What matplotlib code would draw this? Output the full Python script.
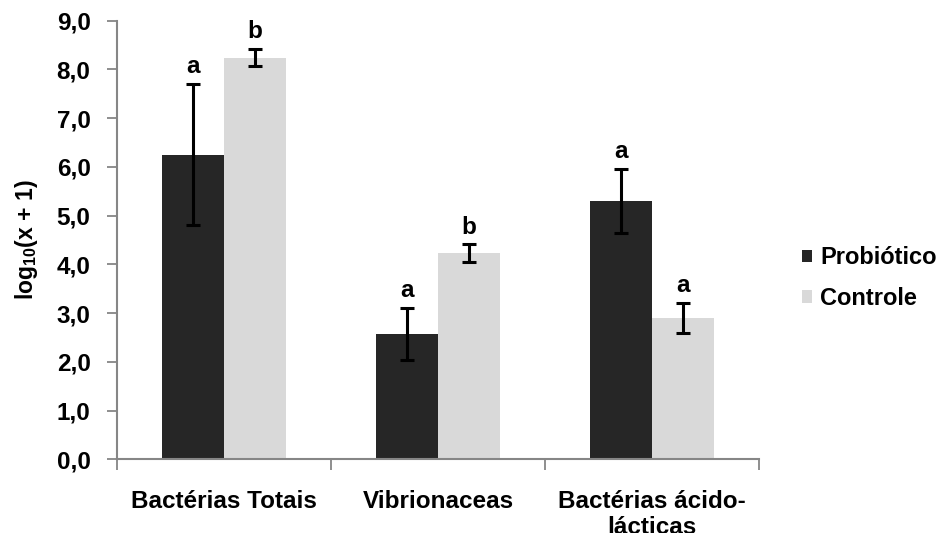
import numpy as np
import matplotlib
matplotlib.use("Agg")
import matplotlib.pyplot as plt

plt.rcParams['font.family'] = ['Liberation Sans', 'DejaVu Sans']
plt.rcParams['font.weight'] = 'bold'
plt.rcParams['mathtext.fontset'] = 'custom'
plt.rcParams['mathtext.rm'] = 'Liberation Sans:bold'
plt.rcParams['mathtext.it'] = 'Liberation Sans:bold'
plt.rcParams['mathtext.bf'] = 'Liberation Sans:bold'

categories = ["Bactérias Totais", "Vibrionaceas", "Bactérias ácido-\nlácticas"]
probiotico = [6.25, 2.57, 5.30]
probiotico_err = [1.45, 0.54, 0.66]
controle = [8.24, 4.23, 2.90]
controle_err = [0.18, 0.18, 0.30]
letters_probiotico = ["a", "a", "a"]
letters_controle = ["b", "b", "a"]
yticks = [0, 1, 2, 3, 4, 5, 6, 7, 8, 9]

dark = "#262626"
light = "#d9d9d9"
axis_grey = "#868686"
fs = 17.5

fig = plt.figure(figsize=(9.43, 5.33), dpi=100)
ax = fig.add_axes([0.124, 0.1383, 0.681, 0.8229])

x = np.arange(len(categories))
w = 0.29
ekw = dict(ecolor="black", elinewidth=2.2, capsize=5, capthick=2.2)
ax.bar(x - w / 2, probiotico, w, color=dark, label="Probiótico",
       yerr=probiotico_err, error_kw=ekw, zorder=2)
ax.bar(x + w / 2, controle, w, color=light, label="Controle",
       yerr=controle_err, error_kw=ekw, zorder=2)

for xi, m, e, t in zip(x - w / 2, probiotico, probiotico_err, letters_probiotico):
    ax.text(xi, m + e + 0.12, t, ha="center", va="bottom", fontsize=fs, fontweight="bold")
for xi, m, e, t in zip(x + w / 2, controle, controle_err, letters_controle):
    ax.text(xi, m + e + 0.12, t, ha="center", va="bottom", fontsize=fs, fontweight="bold")

ax.set_xlim(-0.5, len(categories) - 0.5)
ax.set_ylim(0, 9)
ax.set_yticks(yticks)
ax.set_yticklabels([f"{v:.1f}".replace(".", ",") for v in yticks], fontsize=fs, fontweight="bold")

# category labels centred between boundary ticks
ax.set_xticks(x)
ax.set_xticklabels(categories, fontsize=fs, fontweight="bold", linespacing=1.2)
ax.tick_params(axis="x", length=0, pad=22)
ax.set_xticks(np.arange(len(categories) + 1) - 0.5, minor=True)
ax.tick_params(axis="x", which="minor", length=8, width=1.3, color=axis_grey, direction="out")

ax.tick_params(axis="y", length=7, width=1.3, color=axis_grey, pad=12)
for s in ["top", "right"]:
    ax.spines[s].set_visible(False)
for s in ["left", "bottom"]:
    ax.spines[s].set_color(axis_grey)
    ax.spines[s].set_linewidth(1.5)

ax.set_ylabel(r"log$_{10}$(x + 1)", fontsize=16.5, fontweight="bold", labelpad=12)

ax.legend(loc="center left", bbox_to_anchor=(802 / 943, 1 - 278 / 533),
          bbox_transform=fig.transFigure, frameon=False,
          fontsize=17, handlelength=0.42, handleheight=0.42, handletextpad=0.35,
          labelspacing=0.75, borderaxespad=0, borderpad=0)

fig.savefig("out.png", dpi=100)
